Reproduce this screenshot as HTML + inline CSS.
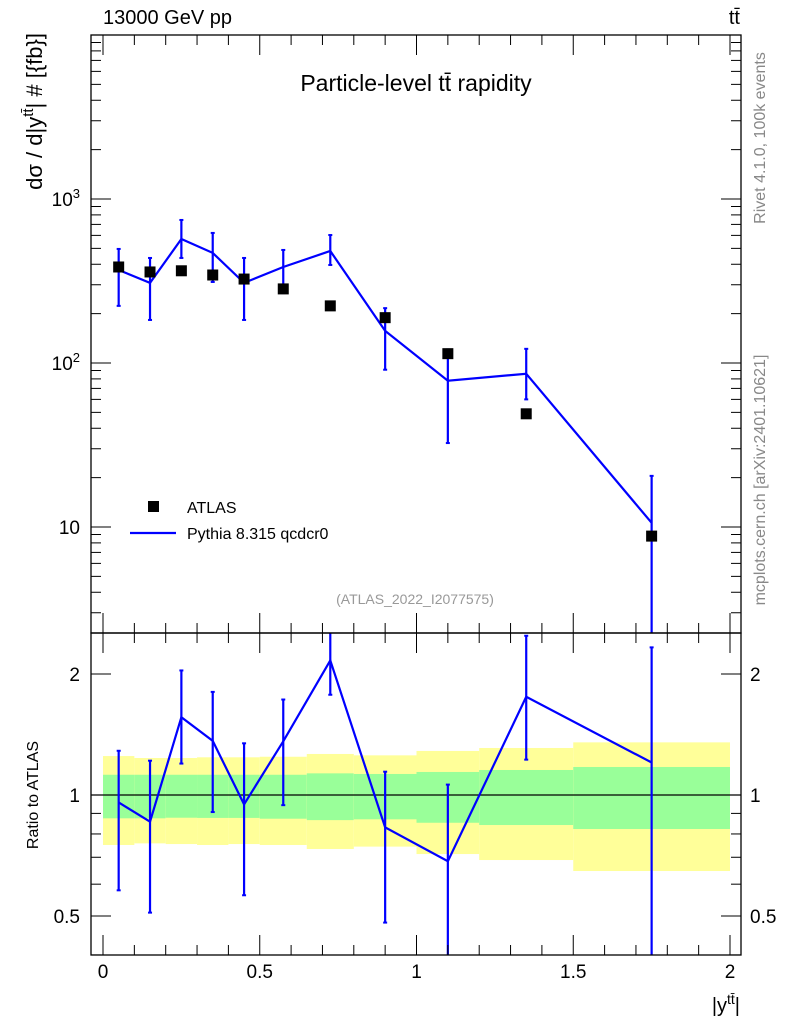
<!DOCTYPE html>
<html><head><meta charset="utf-8"><style>
body{margin:0;background:#fff;}
svg{display:block;font-family:"Liberation Sans",Arial,sans-serif;}
</style></head><body>
<svg id="chart" width="786" height="1024" xmlns="http://www.w3.org/2000/svg"></svg>
<script>
const binEdges=[0,0.1,0.2,0.3,0.4,0.5,0.65,0.8,1.0,1.2,1.5,2.0];
const binCenters=[0.05,0.15,0.25,0.35,0.45,0.575,0.725,0.9,1.1,1.35,1.75];
const atlasValues=[385,359,365,344,325,283,223,189,114,49,8.8];
const pythiaValues=[369,308,570,469,308,385,482,157,78,86,10.6];
const pythiaUp=[496,437,745,621,437,489,603,216,121,122,20.5];
const pythiaDown=[223,183,437,312,183,267,396,91,32.5,60,0.5];
const bandYellowUp=[1.250,1.236,1.236,1.241,1.241,1.245,1.265,1.255,1.287,1.309,1.352];
const bandYellowDown=[0.751,0.758,0.755,0.751,0.755,0.751,0.734,0.744,0.713,0.689,0.647];
const bandGreenUp=[1.123,1.123,1.123,1.123,1.123,1.123,1.132,1.128,1.141,1.154,1.174];
const bandGreenDown=[0.875,0.875,0.878,0.877,0.877,0.873,0.866,0.870,0.853,0.842,0.823];
const xTicks=[0,0.5,1,1.5,2];
const xTickLabels=["0","0.5","1","1.5","2"];
const ratioTicks=[0.5,1,2];
const ratioTickLabels=["0.5","1","2"];

const NS="http://www.w3.org/2000/svg";
const svg=document.getElementById('chart');
const L=91,R=741,T1=35,B1=633,T2=633,B2=955;
const X=v=>103+v*313.5;
const Y1=v=>199-(Math.log10(v)-3)*164;
const Y2=v=>795-Math.log2(v)*121;
function el(tag,attrs,parent){const e=document.createElementNS(NS,tag);for(const k in attrs)e.setAttribute(k,attrs[k]);(parent||svg).appendChild(e);return e;}
function clampY(y,t,b){return Math.max(t,Math.min(b,y));}

const defs=el('defs',{});
const c1=el('clipPath',{id:'c1'},defs);el('rect',{x:L,y:T1,width:R-L,height:B1-T1},c1);
const c2=el('clipPath',{id:'c2'},defs);el('rect',{x:L,y:T2,width:R-L,height:B2-T2},c2);

const gBands=el('g',{'clip-path':'url(#c2)'});


for(let i=0;i<binCenters.length;i++){
  const x0=X(binEdges[i]),x1=X(binEdges[i+1]);
  const ry=el('rect',{x:x0,y:Y2(bandYellowUp[i]),width:x1-x0,height:Y2(bandYellowDown[i])-Y2(bandYellowUp[i]),fill:'#ffff99'},gBands);
  
  
  const rg=el('rect',{x:x0,y:Y2(bandGreenUp[i]),width:x1-x0,height:Y2(bandGreenDown[i])-Y2(bandGreenUp[i]),fill:'#99ff99'},gBands);
  
  
}
el('line',{x1:L,x2:R,y1:Y2(1),y2:Y2(1),stroke:'#000','stroke-width':1.2});

const gTop=el('g',{'clip-path':'url(#c1)'});
let pts=binCenters.map((c,i)=>X(c)+','+Y1(pythiaValues[i])).join(' ');
const pl=el('polyline',{points:pts,fill:'none',stroke:'#0000ff','stroke-width':2.2},gTop);


for(let i=0;i<binCenters.length;i++){
  const x=X(binCenters[i]),yu=Y1(pythiaUp[i]),yd=clampY(Y1(pythiaDown[i]),T1,B1+5);
  const eb=el('line',{x1:x,x2:x,y1:yu,y2:yd,stroke:'#0000ff','stroke-width':2.2},gTop);
  
  
  el('line',{x1:x-2,x2:x+2,y1:yu,y2:yu,stroke:'#0000ff','stroke-width':2},gTop);
  el('line',{x1:x-2,x2:x+2,y1:yd,y2:yd,stroke:'#0000ff','stroke-width':2},gTop);
}
for(let i=0;i<binCenters.length;i++){
  const m=el('rect',{x:X(binCenters[i])-5.5,y:Y1(atlasValues[i])-5.5,width:11,height:11,fill:'#000'},gTop);
  
  
}

const gR=el('g',{'clip-path':'url(#c2)'});
const ratio=pythiaValues.map((v,i)=>v/atlasValues[i]);
pts=binCenters.map((c,i)=>X(c)+','+Y2(ratio[i])).join(' ');
const rl=el('polyline',{points:pts,fill:'none',stroke:'#0000ff','stroke-width':2.2},gR);


for(let i=0;i<binCenters.length;i++){
  const x=X(binCenters[i]);
  const yu=clampY(Y2(pythiaUp[i]/atlasValues[i]),T2-5,B2+5),yd=clampY(Y2(pythiaDown[i]/atlasValues[i]),T2-5,B2+5);
  const eb=el('line',{x1:x,x2:x,y1:yu,y2:yd,stroke:'#0000ff','stroke-width':2.2},gR);
  
  
  el('line',{x1:x-2,x2:x+2,y1:yu,y2:yu,stroke:'#0000ff','stroke-width':2},gR);
  el('line',{x1:x-2,x2:x+2,y1:yd,y2:yd,stroke:'#0000ff','stroke-width':2},gR);
}

el('rect',{x:L,y:T1,width:R-L,height:B1-T1,fill:'none',stroke:'#000','stroke-width':1.3});
el('rect',{x:L,y:T2,width:R-L,height:B2-T2,fill:'none',stroke:'#000','stroke-width':1.3});

for(let d=0;d<4;d++)for(let k=1;k<10;k++){
  const v=k*Math.pow(10,d);const y=Y1(v);if(y<T1||y>B1)continue;
  const len=k===1?20:10;
  el('line',{x1:L,x2:L+len,y1:y,y2:y,stroke:'#000'});
  el('line',{x1:R,x2:R-len,y1:y,y2:y,stroke:'#000'});
}
function txt(s,attrs,name){const t=el('text',attrs);t.textContent=s;return t;}
const ylab1=el('text',{x:80,y:Y1(1000)+7,'font-size':19,'text-anchor':'end'});

ylab1.innerHTML='10<tspan dy="-8" font-size="13">3</tspan>';
const ylab2=el('text',{x:80,y:Y1(100)+7,'font-size':19,'text-anchor':'end'});

ylab2.innerHTML='10<tspan dy="-8" font-size="13">2</tspan>';
txt('10',{x:80,y:Y1(10)+7,'font-size':19,'text-anchor':'end'},'y-tick-label');

[0.4,0.5,0.6,0.7,0.8,0.9,1,2].forEach(v=>{
  const y=Y2(v);const maj=ratioTicks.includes(v);const len=maj?20:10;
  el('line',{x1:L,x2:L+len,y1:y,y2:y,stroke:'#000'});
  el('line',{x1:R,x2:R-len,y1:y,y2:y,stroke:'#000'});
});
ratioTicks.forEach((v,i)=>{
  txt(ratioTickLabels[i],{x:80,y:Y2(v)+7,'font-size':19,'text-anchor':'end'},'ratio-tick-label');
  txt(ratioTickLabels[i],{x:750,y:Y2(v)+7,'font-size':19},'ratio-tick-label-right');
});

for(let i=0;i<=20;i++){
  const v=i/10,x=X(v),maj=i%5===0,len=maj?20:10;
  el('line',{x1:x,x2:x,y1:B1,y2:B1-len,stroke:'#000'});
  el('line',{x1:x,x2:x,y1:T1,y2:T1+len,stroke:'#000'});
  el('line',{x1:x,x2:x,y1:B2,y2:B2-len,stroke:'#000'});
  el('line',{x1:x,x2:x,y1:T2,y2:T2+len,stroke:'#000'});
}
xTicks.forEach((v,i)=>txt(xTickLabels[i],{x:X(v),y:978,'font-size':19,'text-anchor':'middle'},'x-tick-label'));

txt('13000 GeV pp',{x:103,y:24,'font-size':20},'energy-label');
const tt=el('text',{x:740,y:24,'font-size':20,'text-anchor':'end'});tt.textContent='tt\u0304';
txt('Particle-level tt\u0304 rapidity',{x:416,y:91,'font-size':23,'text-anchor':'middle'},'plot-title');
const yl=el('text',{transform:'translate(42,33) rotate(-90)','font-size':22,'text-anchor':'end'});

yl.innerHTML='dσ / d|y<tspan dy="-9" font-size="15">tt\u0304</tspan><tspan dy="9">| # [{fb}]</tspan>';
txt('Ratio to ATLAS',{transform:'translate(38,795) rotate(-90)','font-size':16,'text-anchor':'middle'},'ratio-axis-title');
const xl=el('text',{x:740,y:1012,'font-size':20,'text-anchor':'end'});

xl.innerHTML='|y<tspan dy="-8" font-size="14">tt\u0304</tspan><tspan dy="8">|</tspan>';
txt('Rivet 4.1.0,  100k events',{transform:'translate(765,138) rotate(-90)','font-size':16,'text-anchor':'middle',fill:'#888'},'rivet-label');
txt('mcplots.cern.ch [arXiv:2401.10621]',{transform:'translate(765,480) rotate(-90)','font-size':16,'text-anchor':'middle',fill:'#888'},'source-label');
txt('(ATLAS_2022_I2077575)',{x:415,y:604,'font-size':14,'text-anchor':'middle',fill:'#999'},'analysis-id');

const lg=el('g',{});
const ls=el('rect',{x:148,y:501,width:11,height:11,fill:'#000'},lg);
txt('ATLAS',{x:187,y:513,'font-size':16},'legend-atlas-label');
const ll=el('line',{x1:130,x2:176,y1:533,y2:533,stroke:'#0000ff','stroke-width':2.2},lg);
txt('Pythia 8.315 qcdcr0',{x:187,y:539,'font-size':16},'legend-pythia-label');
</script>
</body></html>
